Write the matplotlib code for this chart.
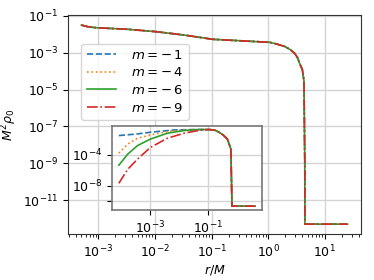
import matplotlib
matplotlib.use("Agg")
import matplotlib.pyplot as plt

# ---- data ----
labels = [r"$m=-\,1$", r"$m=-\,4$", r"$m=-\,6$", r"$m=-\,9$"]
colors = ["tab:blue", "tab:orange", "tab:green", "tab:red"]
styles = ["--", ":", "-", "-."]

# main panel (all m coincide)
r_main = [5.0e-4, 6.5e-4, 9.0e-4, 3.2e-3, 1.05e-2, 3.2e-2, 0.105, 1.07, 1.41,
          1.97, 2.45, 2.95, 3.3, 3.6, 4.03, 4.3, 4.45, 4.47, 25.4]
rho_main = [0.032, 0.026, 0.023, 0.019, 0.014, 0.0093, 0.0054, 0.0037, 0.0030,
            0.0022, 0.0015, 9.3e-4, 5.5e-4, 2.7e-4, 1.2e-4, 3e-5, 1e-9, 5e-13, 5e-13]

# inset heads (differ per m)
r_in_m1 = [7.8e-5, 3.5e-4, 1.0e-3, 6.8e-3, 3.2e-2]
rho_in_m1 = [0.030, 0.049, 0.081, 0.16, 0.18]
r_in_m4 = [7.8e-5, 1.6e-4, 3.5e-4, 1.0e-3, 3.9e-3, 1.5e-2, 5.0e-2]
rho_in_m4 = [1.6e-4, 2.4e-3, 0.0135, 0.036, 0.10, 0.16, 0.18]
r_in_m6 = [7.8e-5, 1.6e-4, 3.5e-4, 1.0e-3, 3.9e-3, 1.5e-2, 5.0e-2]
rho_in_m6 = [4.4e-6, 1.2e-4, 1.5e-3, 0.0107, 0.06, 0.135, 0.178]
r_in_m9 = [7.8e-5, 1.6e-4, 3.5e-4, 1.0e-3, 3.9e-3, 1.5e-2, 5.0e-2, 0.09]
rho_in_m9 = [2e-8, 1.3e-6, 2.7e-5, 8.9e-4, 0.0135, 0.06, 0.14, 0.174]
# inset shared tail
r_in_tail = [0.115, 0.18, 0.25, 0.35, 0.49, 0.65, 0.71, 4.6]
rho_in_tail = [0.18, 0.15, 0.081, 0.035, 0.0107, 5.4e-4, 2.2e-11, 2.2e-11]

inset_r = [r_in_m1, r_in_m4, r_in_m6, r_in_m9]
inset_rho = [rho_in_m1, rho_in_m4, rho_in_m6, rho_in_m9]

main_yticks = [1e-11, 1e-9, 1e-7, 1e-5, 1e-3, 1e-1]
main_xticks = [1e-3, 1e-2, 1e-1, 1e0, 1e1]
inset_xticks = [1e-3, 1e-1]
inset_yticks = [1e-10, 1e-8, 1e-4]
inset_yticklabels = ["", "$10^{-8}$", "$10^{-4}$"]

# ---- plot ----
fs = 9
gridc = "#d4d4d4"
fig = plt.figure(figsize=(3.74, 2.8), dpi=100)
ax = fig.add_axes([0.182, 0.164, 0.783, 0.782])
for lab, c, ls in zip(labels, colors, styles):
    ax.plot(r_main, rho_main, ls, color=c, lw=1.2, label=lab)
ax.set_xscale("log")
ax.set_yscale("log")
ax.set_yticks(main_yticks)
ax.set_xticks(main_xticks)
ax.yaxis.set_minor_locator(matplotlib.ticker.NullLocator())
ax.tick_params(labelsize=fs)
ax.grid(True, which="major", color=gridc, lw=1.0)
ax.set_xlabel("$r/M$", fontsize=fs, labelpad=2)
ax.set_ylabel(r"$M^2\rho_0$", fontsize=fs, labelpad=3)
for sp in ax.spines.values():
    sp.set_color("#333333")
ax.legend(loc="upper left", bbox_to_anchor=(0.045, 0.87), borderaxespad=0,
          fontsize=9.5, handlelength=2.2, labelspacing=0.35, handletextpad=1.2)

axi = fig.add_axes([0.2995, 0.25, 0.401, 0.301])
for rr, yy, c, ls in zip(inset_r, inset_rho, colors, styles):
    axi.plot(list(rr) + r_in_tail, list(yy) + rho_in_tail, ls, color=c, lw=1.2)
axi.set_xscale("log")
axi.set_yscale("log")
axi.set_xticks(inset_xticks)
axi.set_yticks(inset_yticks)
axi.set_yticklabels(inset_yticklabels)
axi.yaxis.set_minor_locator(matplotlib.ticker.NullLocator())
axi.tick_params(labelsize=fs)
axi.grid(True, which="major", color=gridc, lw=1.0)
for sp in axi.spines.values():
    sp.set_color("#777777")
    sp.set_linewidth(1.2)

fig.savefig("out.png", dpi=100)
